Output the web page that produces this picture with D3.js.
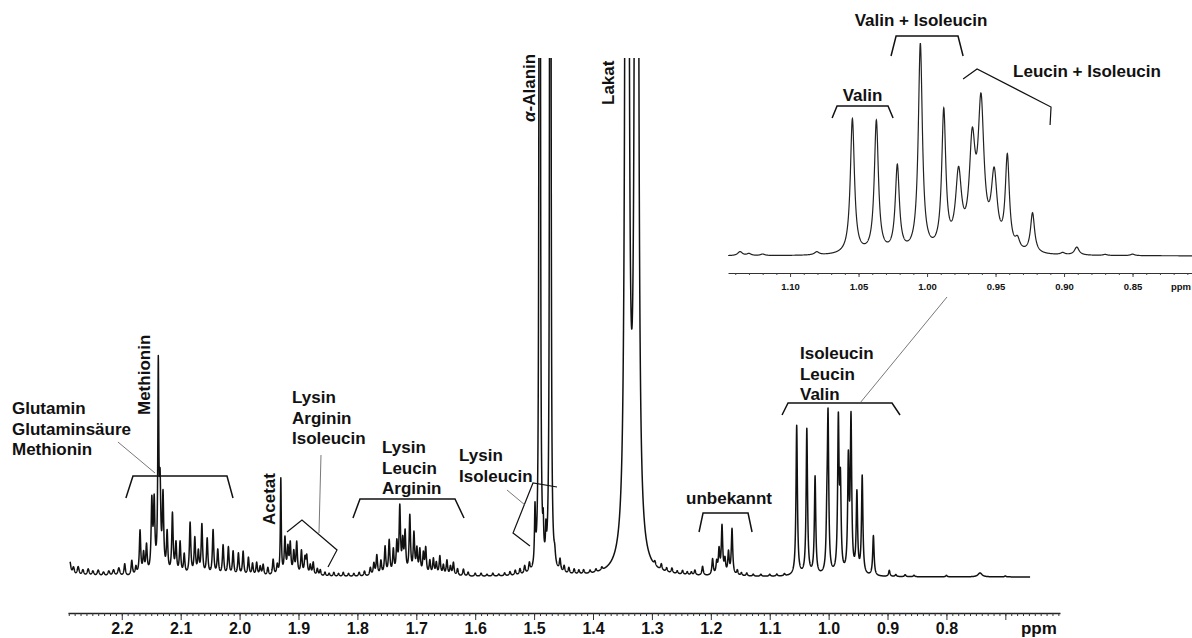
<!DOCTYPE html>
<html>
<head>
<meta charset="utf-8">
<script src="https://cdn.jsdelivr.net/npm/d3@7"></script>
<style>
  body { margin: 0; background: #fff; }
  svg { display: block; font-family: "Liberation Sans", Arial, sans-serif; }
  .lbl { font-size: 17px; font-weight: bold; fill: #111; }
  .tick text { font-family: "Liberation Sans", Arial, sans-serif; font-weight: bold; fill: #111; }
</style>
</head>
<body>
<svg id="chart"></svg>
<script>
// ---- data: peaks as [ppm, height (px above baseline), half width (ppm)] ----
const glxPeaks = [
  [2.288, 14, 0.002], [2.282, 8, 0.002], [2.274, 9, 0.002], [2.266, 6, 0.002], [2.257, 7, 0.002],
  [2.249, 5, 0.002], [2.240, 6, 0.002], [2.231, 4, 0.002], [2.222, 5, 0.002], [2.214, 6, 0.002],
  [2.205, 8, 0.002], [2.195, 12], [2.183, 15], [2.176, 8], [2.169, 44], [2.163, 20], [2.158, 28],
  [2.149, 70], [2.145, 68], [2.138, 200, 0.001], [2.135, 80], [2.130, 75], [2.123, 40], [2.114, 60],
  [2.108, 30], [2.101, 32], [2.094, 20], [2.084, 52], [2.076, 36], [2.070, 22], [2.064, 50],
  [2.055, 36], [2.045, 45], [2.037, 25], [2.028, 30], [2.019, 28], [2.011, 24], [2.002, 22],
  [1.994, 24], [1.985, 18], [1.978, 12], [1.971, 13], [1.965, 9], [1.960, 11], [1.952, 8],
  [1.943, 16], [1.936, 10]
];
const acetatPeaks = [
  [1.930, 96, 0.0009], [1.923, 36], [1.918, 25], [1.914, 30], [1.908, 22], [1.903, 32], [1.895, 24],
  [1.889, 16], [1.886, 18], [1.880, 10], [1.875, 13], [1.868, 7], [1.863, 6], [1.855, 4], [1.848, 3],
  [1.840, 4], [1.832, 3], [1.824, 4], [1.815, 3], [1.806, 3], [1.797, 4], [1.788, 5]
];
const lysPeaks = [
  [1.778, 8], [1.772, 12], [1.767, 20], [1.760, 14], [1.753, 28], [1.746, 34], [1.739, 24],
  [1.733, 30], [1.728, 66], [1.723, 30], [1.719, 40], [1.711, 58], [1.704, 40], [1.699, 24],
  [1.694, 24], [1.688, 20], [1.684, 26], [1.677, 14], [1.671, 16], [1.666, 12], [1.660, 19],
  [1.654, 10], [1.648, 15], [1.642, 9], [1.637, 13], [1.630, 7], [1.620, 7], [1.612, 4],
  [1.600, 3], [1.590, 3], [1.580, 2], [1.570, 3], [1.560, 2], [1.550, 3], [1.541, 4],
  [1.532, 5], [1.524, 6], [1.516, 8], [1.508, 9]
];
const alaPeaks = [
  [1.4985, 55, 0.001], [1.4905, 7000, 0.0004], [1.4725, 7000, 0.0004],
  [1.4845, 28, 0.0008], [1.4800, 26, 0.0008],
  [1.465, 10], [1.456, 12], [1.449, 7], [1.441, 6], [1.432, 5], [1.424, 4], [1.416, 4],
  [1.405, 3], [1.395, 3], [1.385, 3]
];
const lactatPeaks = [[1.3423, 22700, 0.0006], [1.3261, 22700, 0.0006]];
const unknownPeaks = [
  [1.295, 4], [1.284, 6], [1.275, 4], [1.266, 5], [1.257, 3], [1.248, 4], [1.240, 3], [1.233, 3],
  [1.227, 5], [1.214, 9], [1.197, 16], [1.190, 12], [1.186, 24], [1.181, 48], [1.176, 14],
  [1.170, 22], [1.164, 46], [1.155, 5], [1.148, 3], [1.139, 3], [1.128, 2], [1.115, 2],
  [1.100, 2], [1.088, 2], [1.075, 2]
];
const bcaaPeaks = [
  [1.0542, 150], [1.037, 146], [1.023, 98], [1.003, 40], [1.001, 153], [0.9835, 150], [0.980, 85],
  [0.9665, 110], [0.962, 152], [0.952, 80], [0.943, 98], [0.924, 40], [0.897, 6], [0.886, 2],
  [0.870, 2], [0.855, 1.5], [0.800, 1.5], [0.743, 4, 0.004], [0.700, 1]
];
// expansion 1.15 - 0.80 ppm (inset)
const insetPeaks = [
  [1.1365, 4, 0.002], [1.130, 2], [1.120, 1.5], [1.0805, 3, 0.002], [1.0545, 135], [1.037, 132],
  [1.0217, 86], [1.0049, 208], [0.9878, 138], [0.977, 74, 0.0026], [0.967, 100, 0.0026],
  [0.9606, 140, 0.0026], [0.951, 72, 0.0026], [0.9414, 92], [0.934, 10, 0.002], [0.923, 40],
  [0.901, 2], [0.8907, 8, 0.002], [0.870, 1], [0.850, 1.5]
];

const mainTicks = [2.2, 2.1, 2.0, 1.9, 1.8, 1.7, 1.6, 1.5, 1.4, 1.3, 1.2, 1.1, 1.0, 0.9, 0.8, 0.7];
const mainTickLabels = ["2.2", "2.1", "2.0", "1.9", "1.8", "1.7", "1.6", "1.5", "1.4", "1.3", "1.2", "1.1", "1.0", "0.9", "0.8", ""];
const insetTicks = [1.10, 1.05, 1.00, 0.95, 0.90, 0.85];
const insetTickLabels = ["1.10", "1.05", "1.00", "0.95", "0.90", "0.85"];

// ---- layout ----
const W = 1192, H = 638;
const svg = d3.select("#chart").attr("width", W).attr("height", H);

const x = d3.scaleLinear().domain([2.2913, 0.6072]).range([68, 1060]);
const y = d3.scaleLinear().domain([0, 519]).range([577, 58]);
const xIn = d3.scaleLinear().domain([1.1453, 0.8066]).range([728, 1192]);
const yIn = d3.scaleLinear().domain([0, 256]).range([256, 0]);

// sum of lorentzian lines
function intensity(peaks, p, wDef) {
  let s = 0;
  for (const [c, h, w = wDef] of peaks) {
    const d = p - c;
    s += h * w * w / (d * d + w * w);
  }
  return s;
}

function sample(peaks, from, to, step, wDef) {
  const ps = d3.range(to, from, step).concat(peaks.map(d => d[0]).filter(c => c < from && c > to));
  ps.sort((a, b) => b - a);
  return ps.map(p => [p, intensity(peaks, p, wDef)]);
}

const mainPeaks = [].concat(glxPeaks, acetatPeaks, lysPeaks, alaPeaks, lactatPeaks, unknownPeaks, bcaaPeaks);
const mainData = sample(mainPeaks, 2.288, 0.658, 0.0002, 0.0014);
const insetData = sample(insetPeaks, 1.1453, 0.8066, 0.0001, 0.0018);

svg.append("clipPath").attr("id", "clipMain")
  .append("rect").attr("x", 0).attr("y", 58).attr("width", W).attr("height", H - 58);

// ---- main spectrum ----
svg.append("path")
  .datum(mainData)
  .attr("clip-path", "url(#clipMain)")
  .attr("fill", "none")
  .attr("stroke", "#111")
  .attr("stroke-width", 1.5)
  .attr("stroke-linejoin", "round")
  .attr("d", d3.line().x(d => x(d[0])).y(d => y(d[1])));

// main axis: minor ticks every 0.01, major every 0.1
const axisY = 613;
const minor = d3.range(229, 60, -1).map(v => v / 100);
svg.append("g")
  .attr("transform", `translate(0,${axisY})`)
  .call(d3.axisBottom(x).tickValues(minor).tickSize(3).tickSizeOuter(0).tickFormat(""))
  .call(g => g.select(".domain").attr("stroke", "#222").attr("stroke-width", 1.5))
  .call(g => g.selectAll(".tick line").attr("stroke", "#333"));
svg.append("g")
  .attr("transform", `translate(0,${axisY})`)
  .call(d3.axisBottom(x).tickValues(mainTicks).tickSize(7).tickSizeOuter(0)
    .tickFormat((d, i) => mainTickLabels[i]))
  .call(g => g.select(".domain").remove())
  .call(g => g.selectAll(".tick line").attr("stroke", "#333"))
  .call(g => g.selectAll(".tick text").attr("font-size", 16).attr("y", 21).attr("dy", 0));
svg.append("text").attr("class", "lbl").attr("x", x(0.643)).attr("y", axisY + 21)
  .attr("text-anchor", "middle").attr("font-size", 16).text("ppm");

// ---- inset expansion ----
svg.append("path")
  .datum(insetData)
  .attr("fill", "none")
  .attr("stroke", "#222")
  .attr("stroke-width", 1.2)
  .attr("d", d3.line().x(d => xIn(d[0])).y(d => yIn(d[1])));

const inAxisY = 273;
svg.append("g")
  .attr("transform", `translate(0,${inAxisY})`)
  .call(d3.axisBottom(xIn).tickValues(d3.range(114, 80, -1).map(v => v / 100)).tickSize(2)
    .tickSizeOuter(0).tickFormat(""))
  .call(g => g.select(".domain").attr("stroke", "#333").attr("stroke-width", 1))
  .call(g => g.selectAll(".tick line").attr("stroke", "#444"));
svg.append("g")
  .attr("transform", `translate(0,${inAxisY})`)
  .call(d3.axisBottom(xIn).tickValues(insetTicks).tickSize(4).tickSizeOuter(0)
    .tickFormat((d, i) => insetTickLabels[i]))
  .call(g => g.select(".domain").remove())
  .call(g => g.selectAll(".tick line").attr("stroke", "#444"))
  .call(g => g.selectAll(".tick text").attr("font-size", 9.5).attr("y", 17).attr("dy", 0));
svg.append("text").attr("x", 1171).attr("y", inAxisY + 17).attr("font-size", 9.5)
  .attr("font-weight", "bold").attr("fill", "#111").text("ppm");

// ---- annotations ----
function label(lines, px, py, anchor) {
  const t = svg.append("text").attr("class", "lbl").attr("text-anchor", anchor || "start");
  lines.forEach((s, i) => t.append("tspan").attr("x", px).attr("y", py + i * 20.5).text(s));
  return t;
}
function vlabel(s, px, bottom) {
  return svg.append("text").attr("class", "lbl")
    .attr("transform", `translate(${px},${bottom}) rotate(-90)`)
    .attr("dy", "0.35em").text(s);
}
const line = d3.line();
function bracket(pts, xs, width, color) {
  svg.append("path")
    .attr("d", line(pts.map(([p, py]) => [xs(p), py])))
    .attr("fill", "none").attr("stroke", color || "#111").attr("stroke-width", width || 1.5);
}

label(["Glutamin", "Glutaminsäure", "Methionin"], x(2.3864), 414);
bracket([[2.193, 498], [2.181, 476], [2.0214, 476], [2.0112, 498]], x);
bracket([[2.2065, 442], [2.1436, 473]], x, 0.8, "#555");
vlabel("Methionin", x(2.1623), 415);
vlabel("Acetat", x(1.9501), 525);

label(["Lysin", "Arginin", "Isoleucin"], x(1.9110), 403);
bracket([[1.9195, 532], [1.8941, 520], [1.8346, 550], [1.8499, 567]], x, 1.2);
bracket([[1.8618, 455], [1.8652, 533]], x, 0.8, "#555");

label(["Lysin", "Leucin", "Arginin"], x(1.7582), 453);
bracket([[1.8075, 518], [1.7956, 499], [1.6343, 499], [1.6190, 518]], x);

label(["Lysin", "Isoleucin"], x(1.6275), 461);
bracket([[1.5070, 546], [1.5358, 533], [1.5019, 483], [1.4611, 487]], x, 1.2);
bracket([[1.5460, 490], [1.5155, 505]], x, 0.8, "#555");

svg.append("text").attr("class", "lbl")
  .attr("transform", `translate(${x(1.5087)},122) rotate(-90)`).attr("dy", "0.35em")
  .call(t => t.append("tspan").attr("font-style", "italic").text("α"))
  .call(t => t.append("tspan").text("-Alanin"));
vlabel("Lakat", x(1.3745), 105);

label(["unbekannt"], x(1.1691), 504, "middle");
bracket([[1.2200, 532], [1.2132, 513], [1.1368, 513], [1.1300, 532]], x);

label(["Isoleucin", "Leucin", "Valin"], x(1.0486), 359);
bracket([[1.0791, 415], [1.0689, 403], [0.8924, 403], [0.8788, 415]], x);
svg.append("line").attr("x1", x(0.9467)).attr("y1", 403).attr("x2", 947).attr("y2", 297)
  .attr("stroke", "#555").attr("stroke-width", 0.8);

label(["Valin"], xIn(1.0471), 101, "middle");
bracket([[1.0693, 118], [1.0657, 106], [1.0285, 106], [1.0248, 118]], xIn);
label(["Valin + Isoleucin"], xIn(1.0044), 26, "middle");
bracket([[1.0263, 56], [1.0226, 36], [0.9774, 36], [0.9737, 56]], xIn);
label(["Leucin + Isoleucin"], xIn(0.9372), 77);
bracket([[0.9737, 79], [0.9635, 69], [0.9095, 107], [0.9102, 125]], xIn, 1.2);
</script>
</body>
</html>
